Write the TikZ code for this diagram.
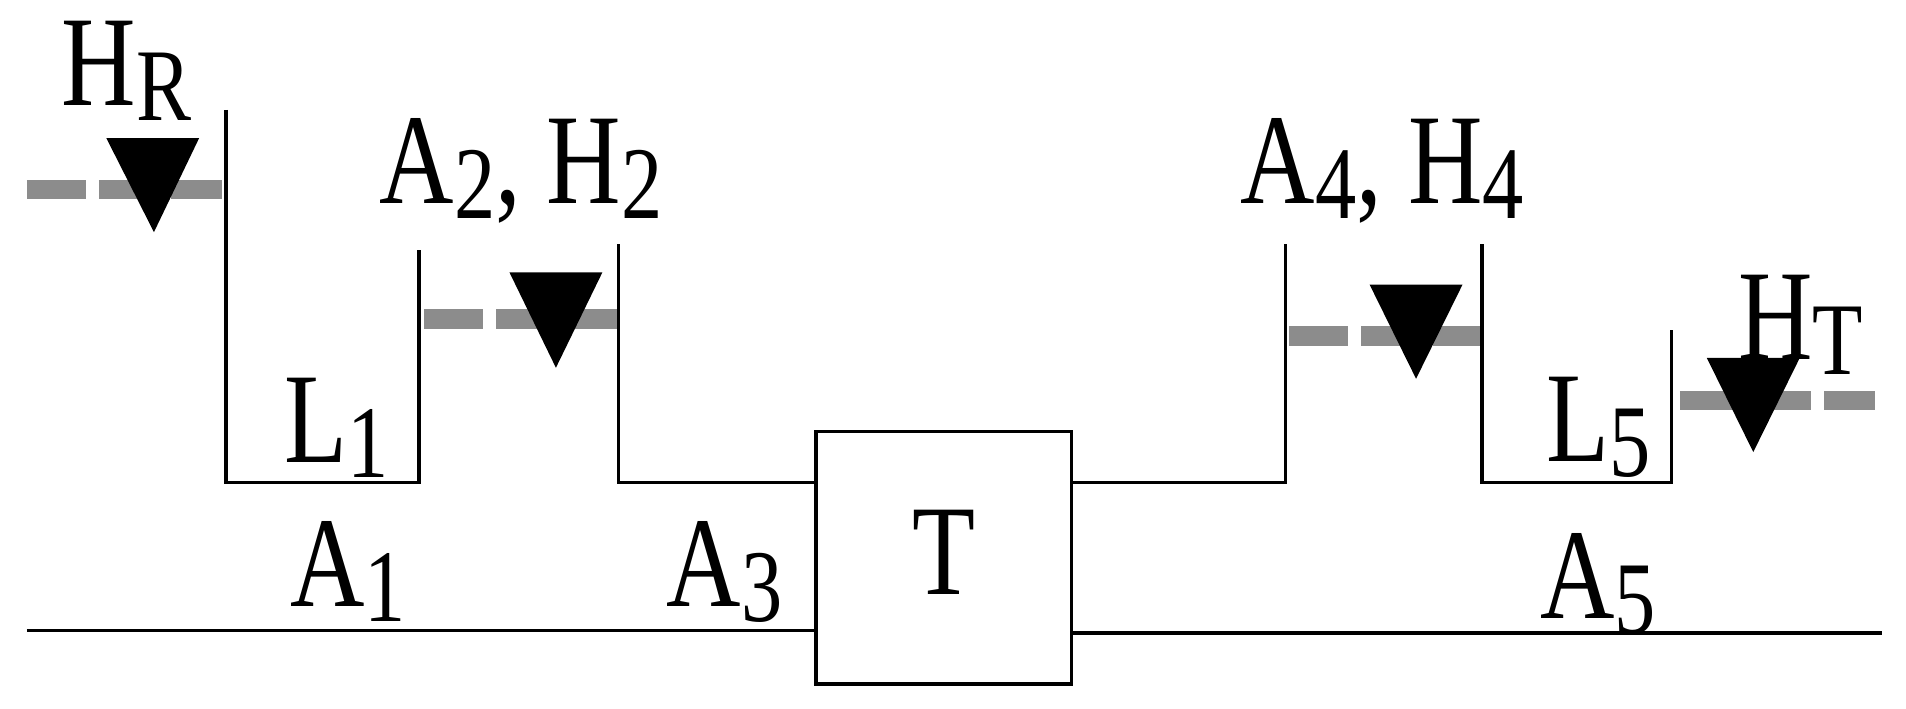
\documentclass[tikz,border=0pt]{standalone}
\usepackage{fontspec}
\setmainfont{Liberation Serif}
\newcommand{\sbx}[1]{\raisebox{-0.25ex}{\fontsize{24}{26}\selectfont #1}}
\newcommand{\lab}[1]{\scalebox{0.8}[1]{#1}}
\begin{document}
\begin{tikzpicture}[x=0.1mm,y=-0.1mm,
  wall/.style={line width=0.8pt,black},
  level/.style={line width=4.5pt,color=black!45,dash pattern=on 4.8mm off 1.1mm},
  tri/.style={fill=black,draw=none},
  lbl/.style={font=\fontsize{30}{32}\selectfont,inner sep=0pt}]
\useasboundingbox (0,0) rectangle (1560,580);
% water levels
\coordinate (l1a) at (22,155); \coordinate (l1b) at (182,155);
\coordinate (l2a) at (347,261); \coordinate (l2b) at (506,261);
\coordinate (l3a) at (1055,275); \coordinate (l3b) at (1213,275);
\coordinate (l4a) at (1375,328); \coordinate (l4b) at (1535,328);
\draw[level] (l1a) -- (l1b);
\draw[level] (l2a) -- (l2b);
\draw[level] (l3a) -- (l3b);
\draw[level] (l4a) -- (l4b);
% triangles
\fill[tri] (87,113) -- (163,113) -- (126,190) -- cycle;
\fill[tri] (417,223) -- (493,223) -- (455,301) -- cycle;
\fill[tri] (1121,233) -- (1197,233) -- (1159,310) -- cycle;
\fill[tri] (1397,293) -- (1473,293) -- (1435,370) -- cycle;
% turbine box
\node[draw,line width=0.8pt,minimum width=20.9mm,minimum height=20.7mm,inner sep=0pt] (T) at (772.5,456.5) {};
\node[lbl] (Tl) at (773,452) {\lab{T}};
% walls
\draw[wall] (185,90) -- (185,395) -- (343,395) -- (343,205);
\draw[wall] (506,200) -- (506,395) -- (T.west |- 0,395);
\draw[wall] (T.east |- 0,395) -- (1052,395) -- (1052,200);
\draw[wall] (1213,200) -- (1213,395) -- (1368,395) -- (1368,270);
\draw[wall] (22,516) -- (T.west |- 0,516);
\draw[wall] (T.east |- 0,518) -- (1540,518);
% labels
\node[lbl,anchor=west] (hr) at (50,58) {\lab{H\sbx{R}}};
\node[lbl,anchor=west] (a2) at (310,140) {\lab{A\sbx{2}, H\sbx{2}}};
\node[lbl,anchor=west] (a4) at (1015,140) {\lab{A\sbx{4}, H\sbx{4}}};
\node[lbl,anchor=west] (ht) at (1422,266) {\lab{H\sbx{T}}};
\node[lbl,anchor=west] (L1) at (232,350) {\lab{L\sbx{1}}};
\node[lbl,anchor=west] (L5) at (1265,350) {\lab{L\sbx{5}}};
\node[lbl,anchor=west] (A1) at (237,468) {\lab{A\sbx{1}}};
\node[lbl,anchor=west] (A3) at (545,468) {\lab{A\sbx{3}}};
\node[lbl,anchor=west] (A5) at (1260,478) {\lab{A\sbx{5}}};
\end{tikzpicture}
\end{document}
